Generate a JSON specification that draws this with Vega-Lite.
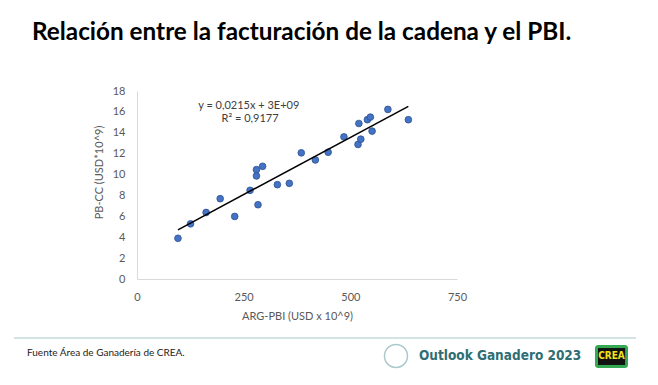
{
  "$schema": "https://vega.github.io/schema/vega-lite/v6.json",
  "width": 320,
  "height": 188,
  "autosize": {"type": "none"},
  "padding": {"left": 137, "top": 91, "right": 201, "bottom": 106},
  "background": "white",
  "config": {
    "view": {"stroke": null},
    "font": "Lato",
    "axis": {
      "grid": false, "ticks": false, "labelOverlap": false, "labelFlush": false,
      "domainColor": "#d9d9d9", "domainWidth": 1,
      "labelColor": "#595959", "labelFontSize": 11, "labelFont": "Lato",
      "labelPadding": 12,
      "titleColor": "#595959", "titleFontSize": 11, "titleFont": "Lato", "titleFontWeight": "normal"
    }
  },
  "title": {
    "text": "Relación entre la facturación de la cadena y el PBI.",
    "anchor": "start",
    "frame": "group",
    "dx": -105,
    "offset": 21,
    "baseline": "alphabetic",
    "font": "Lato",
    "fontSize": 24.3,
    "fontWeight": "bold",
    "color": "#000000"
  },
  "datasets": {
    "pts": [
      {"pbi": 96, "cc": 3.9},
      {"pbi": 125.5, "cc": 5.28},
      {"pbi": 162, "cc": 6.37},
      {"pbi": 195, "cc": 7.69},
      {"pbi": 229, "cc": 5.99},
      {"pbi": 265, "cc": 8.49},
      {"pbi": 280, "cc": 10.47},
      {"pbi": 280, "cc": 9.87},
      {"pbi": 283.6, "cc": 7.11},
      {"pbi": 294.4, "cc": 10.79},
      {"pbi": 329, "cc": 9.03},
      {"pbi": 357, "cc": 9.16},
      {"pbi": 385, "cc": 12.08},
      {"pbi": 418, "cc": 11.4},
      {"pbi": 448, "cc": 12.14},
      {"pbi": 485, "cc": 13.61},
      {"pbi": 518, "cc": 12.88},
      {"pbi": 520, "cc": 14.89},
      {"pbi": 524.5, "cc": 13.39},
      {"pbi": 540, "cc": 15.25},
      {"pbi": 547, "cc": 15.5},
      {"pbi": 551, "cc": 14.16},
      {"pbi": 588, "cc": 16.24},
      {"pbi": 636, "cc": 15.25}
    ],
    "one": [{}]
  },
  "layer": [
    {
      "data": {"name": "pts"},
      "mark": {"type": "point", "filled": true, "size": 45, "color": "#4472c4", "stroke": "#2f528f", "strokeWidth": 0.8, "opacity": 1},
      "encoding": {
        "x": {
          "field": "pbi", "type": "quantitative",
          "scale": {"domain": [0, 750], "nice": false},
          "axis": {"values": [0, 250, 500, 750], "title": "ARG-PBI (USD x 10^9)", "titlePadding": 8}
        },
        "y": {
          "field": "cc", "type": "quantitative",
          "scale": {"domain": [0, 18], "nice": false},
          "axis": {"values": [0, 2, 4, 6, 8, 10, 12, 14, 16, 18], "title": "PB-CC (USD*10^9)", "titleX": -33, "titleY": 81}
        }
      }
    },
    {
      "data": {"name": "pts"},
      "transform": [{"regression": "cc", "on": "pbi", "extent": [96, 636]}],
      "mark": {"type": "line", "color": "#000000", "strokeWidth": 1.5},
      "encoding": {
        "x": {"field": "pbi", "type": "quantitative",
          "axis": {"values": [0, 250, 500, 750], "title": "ARG-PBI (USD x 10^9)", "titlePadding": 8}},
        "y": {"field": "cc", "type": "quantitative",
          "axis": {"values": [0, 2, 4, 6, 8, 10, 12, 14, 16, 18], "title": "PB-CC (USD*10^9)", "titleX": -33, "titleY": 81}}
      }
    },
    {
      "data": {"name": "one"},
      "mark": {"type": "text", "align": "center", "baseline": "middle", "fontSize": 11, "font": "Lato", "fontWeight": "normal", "color": "#404040"},
      "encoding": {
        "x": {"datum": 262, "type": "quantitative",
          "axis": {"values": [0, 250, 500, 750], "title": "ARG-PBI (USD x 10^9)", "titlePadding": 8}},
        "y": {"datum": 16.6, "type": "quantitative",
          "axis": {"values": [0, 2, 4, 6, 8, 10, 12, 14, 16, 18], "title": "PB-CC (USD*10^9)", "titleX": -33, "titleY": 81}},
        "text": {"value": "y = 0,0215x + 3E+09"}
      }
    },
    {
      "data": {"name": "one"},
      "mark": {"type": "text", "align": "center", "baseline": "middle", "fontSize": 11, "font": "Lato", "fontWeight": "normal", "color": "#404040"},
      "encoding": {
        "x": {"datum": 265, "type": "quantitative",
          "axis": {"values": [0, 250, 500, 750], "title": "ARG-PBI (USD x 10^9)", "titlePadding": 8}},
        "y": {"datum": 15.3, "type": "quantitative",
          "axis": {"values": [0, 2, 4, 6, 8, 10, 12, 14, 16, 18], "title": "PB-CC (USD*10^9)", "titleX": -33, "titleY": 81}},
        "text": {"value": "R² = 0,9177"}
      }
    },
    {
      "data": {"name": "one"},
      "mark": {"type": "rule", "color": "#c5d8dc", "strokeWidth": 1.5},
      "encoding": {
        "x": {"datum": -288.3, "type": "quantitative",
          "axis": {"values": [0, 250, 500, 750], "title": "ARG-PBI (USD x 10^9)", "titlePadding": 8}},
        "x2": {"datum": 1169.5},
        "y": {"datum": -5.65, "type": "quantitative",
          "axis": {"values": [0, 2, 4, 6, 8, 10, 12, 14, 16, 18], "title": "PB-CC (USD*10^9)", "titleX": -33, "titleY": 81}}
      }
    },
    {
      "data": {"name": "one"},
      "mark": {"type": "text", "align": "left", "baseline": "middle", "fontSize": 10, "font": "Lato", "fontWeight": "normal", "color": "#222222"},
      "encoding": {
        "x": {"datum": -257.8, "type": "quantitative",
          "axis": {"values": [0, 250, 500, 750], "title": "ARG-PBI (USD x 10^9)", "titlePadding": 8}},
        "y": {"datum": -7.09, "type": "quantitative",
          "axis": {"values": [0, 2, 4, 6, 8, 10, 12, 14, 16, 18], "title": "PB-CC (USD*10^9)", "titleX": -33, "titleY": 81}},
        "text": {"value": "Fuente Área de Ganadería de CREA."}
      }
    },
    {
      "data": {"name": "one"},
      "mark": {"type": "point", "shape": "circle", "size": 530, "filled": false, "stroke": "#a9c9ca", "strokeWidth": 1.5, "opacity": 1},
      "encoding": {
        "x": {"datum": 607, "type": "quantitative",
          "axis": {"values": [0, 250, 500, 750], "title": "ARG-PBI (USD x 10^9)", "titlePadding": 8}},
        "y": {"datum": -7.37, "type": "quantitative",
          "axis": {"values": [0, 2, 4, 6, 8, 10, 12, 14, 16, 18], "title": "PB-CC (USD*10^9)", "titleX": -33, "titleY": 81}}
      }
    },
    {
      "data": {"name": "one"},
      "mark": {"type": "text", "align": "left", "baseline": "middle", "fontSize": 13.5, "font": "DejaVu Sans Condensed", "fontWeight": "bold", "color": "#2f6e73"},
      "encoding": {
        "x": {"datum": 661, "type": "quantitative",
          "axis": {"values": [0, 250, 500, 750], "title": "ARG-PBI (USD x 10^9)", "titlePadding": 8}},
        "y": {"datum": -7.37, "type": "quantitative",
          "axis": {"values": [0, 2, 4, 6, 8, 10, 12, 14, 16, 18], "title": "PB-CC (USD*10^9)", "titleX": -33, "titleY": 81}},
        "text": {"value": "Outlook Ganadero 2023"}
      }
    },
    {
      "data": {"name": "one"},
      "mark": {"type": "rect", "color": "#35a853", "cornerRadius": 3},
      "encoding": {
        "x": {"datum": 1073.4, "type": "quantitative",
          "axis": {"values": [0, 250, 500, 750], "title": "ARG-PBI (USD x 10^9)", "titlePadding": 8}},
        "x2": {"datum": 1150.8},
        "y": {"datum": -6.32, "type": "quantitative",
          "axis": {"values": [0, 2, 4, 6, 8, 10, 12, 14, 16, 18], "title": "PB-CC (USD*10^9)", "titleX": -33, "titleY": 81}},
        "y2": {"datum": -8.52}
      }
    },
    {
      "data": {"name": "one"},
      "mark": {"type": "rect", "color": "#111111"},
      "encoding": {
        "x": {"datum": 1080.5, "type": "quantitative",
          "axis": {"values": [0, 250, 500, 750], "title": "ARG-PBI (USD x 10^9)", "titlePadding": 8}},
        "x2": {"datum": 1144},
        "y": {"datum": -6.61, "type": "quantitative",
          "axis": {"values": [0, 2, 4, 6, 8, 10, 12, 14, 16, 18], "title": "PB-CC (USD*10^9)", "titleX": -33, "titleY": 81}},
        "y2": {"datum": -8.23}
      }
    },
    {
      "data": {"name": "one"},
      "mark": {"type": "text", "align": "center", "baseline": "middle", "fontSize": 10, "font": "DejaVu Sans Condensed", "fontWeight": "bold", "color": "#f2e21b"},
      "encoding": {
        "x": {"datum": 1112, "type": "quantitative",
          "axis": {"values": [0, 250, 500, 750], "title": "ARG-PBI (USD x 10^9)", "titlePadding": 8}},
        "y": {"datum": -7.42, "type": "quantitative",
          "axis": {"values": [0, 2, 4, 6, 8, 10, 12, 14, 16, 18], "title": "PB-CC (USD*10^9)", "titleX": -33, "titleY": 81}},
        "text": {"value": "CREA"}
      }
    }
  ]
}
